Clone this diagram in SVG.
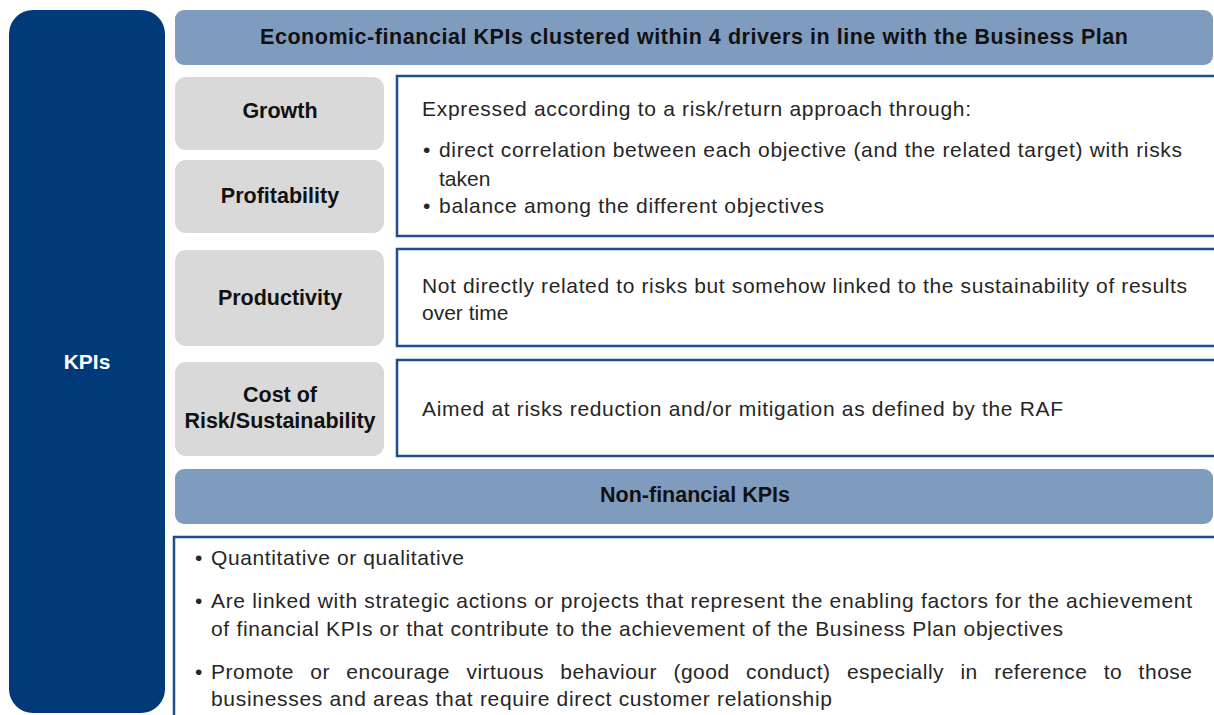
<svg xmlns="http://www.w3.org/2000/svg" width="1214" height="715" viewBox="0 0 1214 715">
<style>
.kpi{fill:#003A78}
.hdr{fill:#7F9CBE}
.drv{fill:#D9D9D9}
.box{fill:#FFFFFF;stroke:#1F4E89;stroke-width:2.5}
.lbl{font-family:"Liberation Sans",Arial,sans-serif;font-weight:bold;font-size:21.5px;fill:#111111;text-anchor:middle}
.wl{font-family:"Liberation Sans",Arial,sans-serif;font-weight:bold;font-size:21px;fill:#FFFFFF;text-anchor:middle}
.txt{font-family:"Liberation Sans",Arial,sans-serif;font-size:21px;fill:#262626}
</style>
<rect width="1214" height="715" fill="#FFFFFF"/>
<g id="kpis">
<rect class="kpi" x="9" y="10" width="156" height="703" rx="24"/>
<text class="wl" x="87" y="369">KPIs</text>
</g>
<g id="header-econ">
<rect class="hdr" x="175" y="10" width="1038" height="55" rx="9"/>
<text class="lbl" x="694" y="44" textLength="868" lengthAdjust="spacing">Economic-financial KPIs clustered within 4 drivers in line with the Business Plan</text>
</g>
<g id="growth">
<rect class="drv" x="175" y="77" width="209" height="73" rx="11"/>
<text class="lbl" x="280" y="118">Growth</text>
</g>
<g id="profitability">
<rect class="drv" x="175" y="160" width="209" height="73" rx="11"/>
<text class="lbl" x="280" y="203">Profitability</text>
</g>
<g id="desc-growth-profit">
<rect class="box" x="397" y="76" width="830" height="160"/>
<text class="txt" x="422" y="116" textLength="549" lengthAdjust="spacing">Expressed according to a risk/return approach through:</text>
<text class="txt" x="423" y="157">•</text>
<text class="txt" x="439" y="157" textLength="743" lengthAdjust="spacing">direct correlation between each objective (and the related target) with risks</text>
<text class="txt" x="439" y="186">taken</text>
<text class="txt" x="423" y="213">•</text>
<text class="txt" x="439" y="213" textLength="385" lengthAdjust="spacing">balance among the different objectives</text>
</g>
<g id="productivity">
<rect class="drv" x="175" y="250" width="209" height="96" rx="11"/>
<text class="lbl" x="280" y="305">Productivity</text>
</g>
<g id="desc-productivity">
<rect class="box" x="397" y="249" width="830" height="97"/>
<text class="txt" x="422" y="293" textLength="765" lengthAdjust="spacing">Not directly related to risks but somehow linked to the sustainability of results</text>
<text class="txt" x="422" y="320">over time</text>
</g>
<g id="cost-of-risk">
<rect class="drv" x="175" y="362" width="209" height="94" rx="11"/>
<text class="lbl" x="280" y="402">Cost of</text>
<text class="lbl" x="280" y="428">Risk/Sustainability</text>
</g>
<g id="desc-cost">
<rect class="box" x="397" y="360" width="830" height="96"/>
<text class="txt" x="422" y="416" textLength="641" lengthAdjust="spacing">Aimed at risks reduction and/or mitigation as defined by the RAF</text>
</g>
<g id="header-nonfin">
<rect class="hdr" x="175" y="469" width="1038" height="55" rx="9"/>
<text class="lbl" x="695" y="502">Non-financial KPIs</text>
</g>
<g id="desc-nonfin">
<rect class="box" x="174" y="537" width="1060" height="200"/>
<text class="txt" x="195" y="565">•</text>
<text class="txt" x="211" y="565" textLength="253" lengthAdjust="spacing">Quantitative or qualitative</text>
<text class="txt" x="195" y="608">•</text>
<text class="txt" x="211" y="608" textLength="981" lengthAdjust="spacing">Are linked with strategic actions or projects that represent the enabling factors for the achievement</text>
<text class="txt" x="211" y="636" textLength="852" lengthAdjust="spacing">of financial KPIs or that contribute to the achievement of the Business Plan objectives</text>
<text class="txt" x="195" y="679">•</text>
<text class="txt" x="211" y="679" word-spacing="10" textLength="981" lengthAdjust="spacing">Promote or encourage virtuous behaviour (good conduct) especially in reference to those</text>
<text class="txt" x="211" y="706" textLength="621" lengthAdjust="spacing">businesses and areas that require direct customer relationship</text>
</g>
<g id="connectors"></g>
</svg>
